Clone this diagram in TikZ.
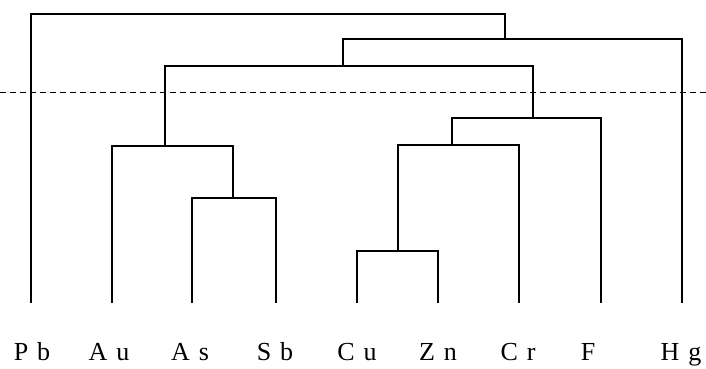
\documentclass[tikz,border=0pt]{standalone}
\usepackage{fontspec}
\setmainfont{Liberation Serif}
\newcommand{\gp}{\hspace{9pt}}
\begin{document}
\begin{tikzpicture}[x=1pt,y=-1pt,
  link/.style={line width=1.9pt,line join=miter},
  cut/.style={line width=1pt,dash pattern=on 6pt off 4pt},
  lab/.style={anchor=base,inner sep=0pt,font=\fontsize{26}{30}\selectfont}]
\useasboundingbox (0,0) rectangle (706,369);
% leaves
\coordinate (Pb) at (31,303);
\coordinate (Au) at (112,303);
\coordinate (As) at (192,303);
\coordinate (Sb) at (276,303);
\coordinate (Cu) at (357,303);
\coordinate (Zn) at (438,303);
\coordinate (Cr) at (519,303);
\coordinate (F) at (601,303);
\coordinate (Hg) at (682,303);
% joins
\coordinate (AsSb) at (233,198);
\coordinate (AuAsSb) at (165,146);
\coordinate (CuZn) at (398,251);
\coordinate (CuZnCr) at (452,145);
\coordinate (CuZnCrF) at (533,118);
\coordinate (mid) at (343,66);
\coordinate (midHg) at (505,39);
\coordinate (top) at (268,14);
% connectors
\draw[link] (As) |- (AsSb) -| (Sb);
\draw[link] (Au) |- (AuAsSb) -| (AsSb);
\draw[link] (Cu) |- (CuZn) -| (Zn);
\draw[link] (CuZn) |- (CuZnCr) -| (Cr);
\draw[link] (CuZnCr) |- (CuZnCrF) -| (F);
\draw[link] (AuAsSb) |- (mid) -| (CuZnCrF);
\draw[link] (mid) |- (midHg) -| (Hg);
\draw[link] (Pb) |- (top) -| (midHg);
% cut line
\coordinate (cutL) at (0,92);
\coordinate (cutR) at (706,92);
\draw[cut] (cutL) -- (cutR);
% labels
\node[lab] (lPb) at (32,360) {P\gp b};
\node[lab] (lAu) at (109,360) {A\gp u};
\node[lab] (lAs) at (190,360) {A\gp s};
\node[lab] (lSb) at (275,360) {S\gp b};
\node[lab] (lCu) at (357,360) {C\gp u};
\node[lab] (lZn) at (438,360) {Z\gp n};
\node[lab] (lCr) at (518,360) {C\gp r};
\node[lab] (lF) at (588,360) {F};
\node[lab] (lHg) at (681,360) {H\gp g};
\end{tikzpicture}
\end{document}
